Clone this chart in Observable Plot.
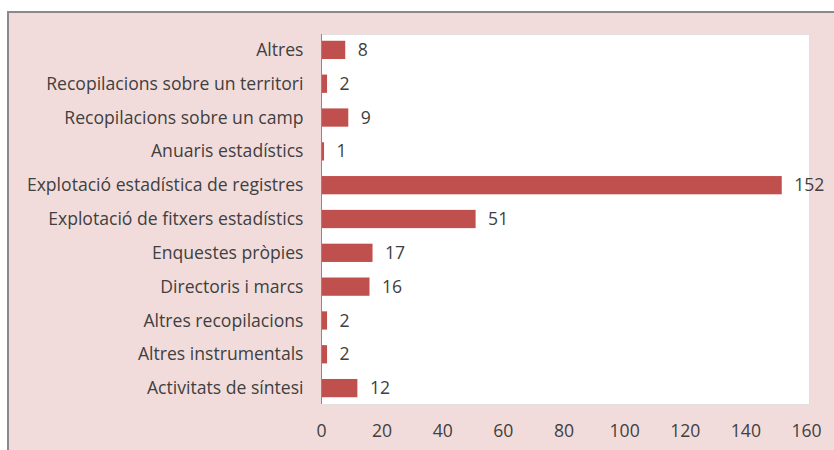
<!DOCTYPE html>
<html>
<head>
<meta charset="utf-8">
<script src="https://cdn.jsdelivr.net/npm/d3@7"></script>
<script src="https://cdn.jsdelivr.net/npm/@observablehq/plot@0.6"></script>
<style>
  html, body { margin: 0; padding: 0; background: #ffffff; }
  #wrap { position: relative; width: 834px; height: 450px; overflow: hidden; background: #ffffff; }
  #bg { position: absolute; left: 7px; top: 11px; width: 840px; height: 450px; background: #f2dcdb; border-left: 2px solid #8a8a8a; border-top: 2px solid #8a8a8a; }
  #chart { position: absolute; left: 0; top: 0; }
</style>
</head>
<body>
<div id="wrap"><div id="bg"></div><div id="chart"></div></div>
<script>
const categories = [
  "Altres",
  "Recopilacions sobre un territori",
  "Recopilacions sobre un camp",
  "Anuaris estadístics",
  "Explotació estadística de registres",
  "Explotació de fitxers estadístics",
  "Enquestes pròpies",
  "Directoris i marcs",
  "Altres recopilacions",
  "Altres instrumentals",
  "Activitats de síntesi"
];
const values = [8, 2, 9, 1, 152, 51, 17, 16, 2, 2, 12];
const xTicks = [0, 20, 40, 60, 80, 100, 120, 140, 160];

const data = categories.map((c, i) => ({category: c, value: values[i]}));

const chart = Plot.plot({
  width: 834,
  height: 450,
  marginLeft: 321,
  marginRight: 25,
  insetRight: 3,
  marginTop: 34,
  marginBottom: 46,
  style: {background: "transparent", fontFamily: "'Open Sans', sans-serif", fontSize: "17.6px", color: "#404040"},
  x: {domain: [0, 160], ticks: xTicks, tickSize: 0, tickPadding: 20, label: null},
  y: {domain: categories, paddingInner: 0.46, paddingOuter: 0.2, round: false, tickSize: 0, tickPadding: 18, label: null},
  marks: [
    Plot.frame({fill: "white", stroke: "#e0e0e0"}),
    Plot.barX(data, {x: "value", y: "category", fill: "#c0504d"}),
    Plot.ruleX([0], {stroke: "#8a8a8a", strokeWidth: 1}),
    Plot.text(data, {x: "value", y: "category", text: d => String(d.value), dx: 12, textAnchor: "start", fill: "#404040", fontSize: 17.6})
  ]
});
document.getElementById("chart").appendChild(chart);
</script>
</body>
</html>
